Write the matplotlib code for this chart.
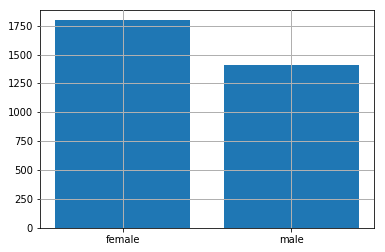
import matplotlib
matplotlib.use("Agg")
import matplotlib.pyplot as plt

categories = ["female", "male"]
counts = [1796, 1408]

fig = plt.figure(figsize=(385 / 72, 252 / 72), dpi=72)
ax = fig.add_axes([40 / 385, 24 / 252, 334 / 385, 218 / 252])

ax.bar(categories, counts, color="#1f77b4", width=0.8)
ax.grid(True, color="#b0b0b0", linewidth=1.0)
ax.set_axisbelow(False)

fig.savefig("out.png", dpi=72)
